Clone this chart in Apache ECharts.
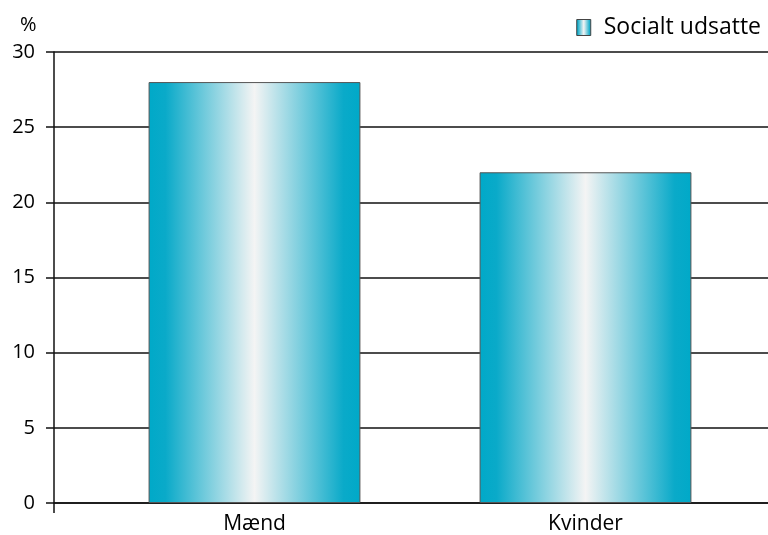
<!DOCTYPE html>
<html><head><meta charset="utf-8">
<script src="https://cdn.jsdelivr.net/npm/echarts@6/dist/echarts.min.js"></script>
<style>html,body{margin:0;padding:0;background:#fff}#c{width:768px;height:535px}</style>
</head><body><div id="c"></div>
<script>
const categories = ['Mænd', 'Kvinder'];
const seriesName = 'Socialt udsatte';
const values = [28, 22];
const yMin = 0, yMax = 30, yInterval = 5;

const FONT = 'Open Sans';
const grad = {
  type: 'linear', x: 0, y: 0, x2: 1, y2: 0,
  colorStops: [
    {offset: 0, color: '#00a9c8'},
    {offset: 0.08, color: '#0aaac9'},
    {offset: 0.5, color: '#f4f4f4'},
    {offset: 0.92, color: '#0aaac9'},
    {offset: 1, color: '#00a9c8'}
  ]
};
const chart = echarts.init(document.getElementById('c'));
chart.setOption({
  animation: false,
  backgroundColor: '#fff',
  textStyle: {fontFamily: FONT},
  title: {text: '%', left: 15, top: 10, textStyle: {fontFamily: FONT, fontSize: 20, fontWeight: 'normal', color: '#000'}},
  legend: {
    right: 2, top: 11, itemWidth: 14, itemHeight: 16, icon: 'rect', itemGap: 6,
    data: [seriesName],
    textStyle: {fontFamily: FONT, fontSize: 23, color: '#000', padding: [0, 0, 0, 8]},
    itemStyle: {borderColor: '#444', borderWidth: 1}
  },
  grid: [
    {left: 54, right: 0, top: 52, bottom: 32},
    {left: 89, right: 17, top: 52, bottom: 32}
  ],
  xAxis: [
    {gridIndex: 0, type: 'value', min: 0, max: 1, interval: 1,
      axisLine: {show: true, lineStyle: {color: '#111', width: 1.5}},
      axisTick: {show: true, length: 10, customValues: [0], lineStyle: {color: '#111', width: 1.5}},
      axisLabel: {show: false}, splitLine: {show: false}},
    {gridIndex: 1, type: 'category', data: categories,
      axisLine: {show: false}, axisTick: {show: false},
      axisLabel: {fontFamily: FONT, fontSize: 21, color: '#000', margin: 11}}
  ],
  yAxis: [
    {gridIndex: 0, type: 'value', min: yMin, max: yMax, interval: yInterval,
      axisLine: {show: true, lineStyle: {color: '#111', width: 1.5}},
      axisTick: {show: true, length: 8, lineStyle: {color: '#111', width: 1.5}},
      axisLabel: {fontFamily: FONT, fontSize: 20, color: '#000', margin: 19},
      splitLine: {show: true, lineStyle: {color: '#111', width: 1.5}}},
    {gridIndex: 1, type: 'value', min: yMin, max: yMax, interval: yInterval, show: false}
  ],
  series: [{
    name: seriesName, type: 'bar', xAxisIndex: 1, yAxisIndex: 1,
    data: values, barWidth: '64%',
    itemStyle: {color: grad, borderColor: '#555', borderWidth: 1}
  }]
});
</script></body></html>
